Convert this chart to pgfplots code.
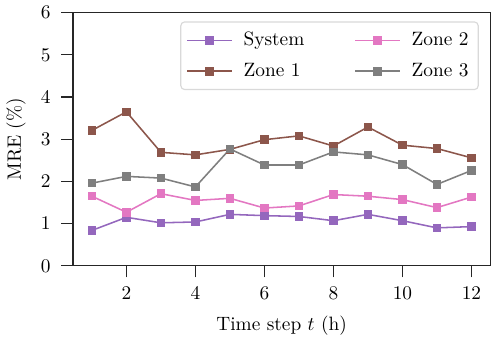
\documentclass[border=0pt]{standalone}
\usepackage{pgfplots}
\pgfplotsset{compat=1.18}
\definecolor{cpurple}{HTML}{9467BD}
\definecolor{cbrown}{HTML}{8C564B}
\definecolor{cpink}{HTML}{E377C2}
\definecolor{cgray}{HTML}{7F7F7F}
\begin{document}
\begin{tikzpicture}
\begin{axis}[
  scale only axis,
  width=216pt, height=131pt,
  xmin=0.45, xmax=12.55, ymin=0, ymax=6,
  xtick={2,4,6,8,10,12}, ytick={0,1,2,3,4,5,6},
  tick align=outside, tick pos=left,
  major tick length=6pt,
  tick style={line width=0.6pt, black!85},
  axis line style={line width=0.6pt, black!85},
  xticklabel style={yshift=-1.5pt},
  yticklabel style={xshift=-2pt},
  xlabel={Time step $t$ (h)}, ylabel={MRE (\%)},
  xlabel style={yshift=-1.5pt},
  ylabel style={yshift=1pt},
  legend columns=2, transpose legend,
  legend style={at={(1,1)}, xshift=-6pt, yshift=-4.5pt, anchor=north east, draw=black!15, rounded corners=2pt, line width=0.6pt, inner xsep=3pt, inner ysep=3.3pt, row sep=3.5pt,
    /tikz/every odd column/.append style={column sep=3.7pt},
    /tikz/every even column/.append style={column sep=24pt}},
  legend cell align=left,
  legend image code/.code={\draw[mark repeat=2, mark phase=2] plot coordinates {(0pt,0pt)(11.5pt,0pt)(23pt,0pt)};},
  every axis plot/.append style={line width=0.8pt, mark=square*, mark size=1.8pt},
]
\addplot[color=cpurple, mark options={fill=cpurple}] coordinates {(1,0.84)(2,1.15)(3,1.02)(4,1.04)(5,1.22)(6,1.19)(7,1.17)(8,1.07)(9,1.22)(10,1.07)(11,0.90)(12,0.93)};
\addlegendentry{System}
\addplot[color=cbrown, mark options={fill=cbrown}] coordinates {(1,3.21)(2,3.65)(3,2.69)(4,2.63)(5,2.76)(6,2.99)(7,3.08)(8,2.84)(9,3.29)(10,2.86)(11,2.78)(12,2.56)};
\addlegendentry{Zone 1}
\addplot[color=cpink, mark options={fill=cpink}] coordinates {(1,1.65)(2,1.27)(3,1.71)(4,1.55)(5,1.60)(6,1.37)(7,1.42)(8,1.69)(9,1.65)(10,1.57)(11,1.38)(12,1.63)};
\addlegendentry{Zone 2}
\addplot[color=cgray, mark options={fill=cgray}] coordinates {(1,1.96)(2,2.12)(3,2.08)(4,1.87)(5,2.77)(6,2.39)(7,2.39)(8,2.70)(9,2.63)(10,2.40)(11,1.93)(12,2.26)};
\addlegendentry{Zone 3}
\end{axis}
\end{tikzpicture}
\end{document}
